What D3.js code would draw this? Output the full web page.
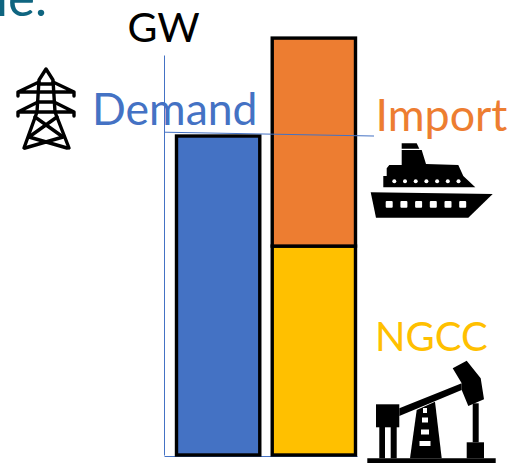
<!DOCTYPE html>
<html>
<head>
<meta charset="utf-8">
<script src="https://cdn.jsdelivr.net/npm/d3@7"></script>
<style>
  html, body { margin: 0; padding: 0; background: #fff; overflow: hidden; }
  svg { display: block; }
  text { font-family: Lato, "Open Sans", sans-serif; }
</style>
</head>
<body>
<svg id="chart" width="514" height="463"></svg>
<script>
// Capacity balance, GW normalised to demand = 100
const columns = ["Demand", "Supply"];
const demandValues = [100];
const ngccValues = [65.5];
const importValues = [65.2];
const demandLineLevels = [101.2, 100];
const axisMax = 125.4;

const colors = { Demand: "#4472C4", Import: "#ED7D31", NGCC: "#FFC000", axis: "#4472C4" };

const svg = d3.select("#chart");

const y = d3.scaleLinear().domain([0, axisMax]).range([455, 55]);
const x = d3.scaleBand().domain(columns).range([176.5, 355.5]).paddingInner(0.13);

// Clipped end of the slide heading above the chart
svg.append("text").attr("x", 47).attr("y", 15.5)
  .attr("text-anchor", "end").attr("font-size", 51).attr("fill", "#0F6580").text("le.");

// Axes, without ticks
const yAxis = d3.axisLeft(y).tickValues([]).tickSize(0).tickSizeOuter(0);
svg.append("g").attr("transform", "translate(164,0)").call(yAxis)
  .select(".domain").attr("stroke", colors.axis).attr("stroke-width", 1);
const xAxisScale = d3.scaleLinear().domain([0, 1]).range([164, 357]);
const xAxis = d3.axisBottom(xAxisScale).tickValues([]).tickSize(0).tickSizeOuter(0);
svg.append("g").attr("transform", `translate(0,${y(0) + 1})`).call(xAxis)
  .select(".domain").attr("stroke", colors.axis).attr("stroke-width", 1);

// Bars: demand alone, then NGCC with imports stacked on top
const rows = [
  { column: "Demand", base: demandValues[0], top: 0 },
  { column: "Supply", base: ngccValues[0], top: importValues[0] }
];
const stacked = d3.stack().keys(["base", "top"])(rows);
const fills = { Demand: [colors.Demand, "none"], Supply: [colors.NGCC, colors.Import] };

stacked.forEach((layer, li) => {
  svg.append("g").selectAll("rect")
    .data(layer.filter(d => d[1] > d[0]))
    .join("rect")
    .attr("x", d => x(d.data.column))
    .attr("width", x.bandwidth())
    .attr("y", d => y(d[1]))
    .attr("height", d => y(d[0]) - y(d[1]))
    .attr("fill", d => fills[d.data.column][li])
    .attr("stroke", "#000")
    .attr("stroke-width", 3.4);
});

// Demand reference line
svg.append("line")
  .attr("x1", 164).attr("x2", 374)
  .attr("y1", y(demandLineLevels[0])).attr("y2", y(demandLineLevels[1]))
  .attr("stroke", colors.axis).attr("stroke-width", 1);

// Labels
const labels = [
  { text: "GW", x: 127.5, y: 41.5, size: 41, fill: "#000" },
  { text: "Demand", x: 92, y: 125, size: 44.5, fill: colors.Demand },
  { text: "Import", x: 375.5, y: 130.5, size: 44.8, fill: colors.Import },
  { text: "NGCC", x: 375, y: 350.5, size: 40, fill: colors.NGCC }
];
svg.append("g").selectAll("text").data(labels).join("text")
  .attr("x", d => d.x).attr("y", d => d.y)
  .attr("font-size", d => d.size).attr("fill", d => d.fill).text(d => d.text);

// Transmission tower icon
const pylon = svg.append("g").attr("fill", "none").attr("stroke", "#000")
  .attr("stroke-width", 3.4).attr("stroke-linejoin", "round").attr("stroke-linecap", "round");
[
  "M24,148L37,112L39,80L46,69L53,80L55,112L69,148",
  "M18,96V92L39,82M74,96V92L53,82M18,92H74",
  "M18,116V112L38,102M74,116V112L54,102M18,112H74",
  "M39,84H53M38,102H54",
  "M35,117L63,137L25,148M57,117L29,137L67,148"
].forEach(d => pylon.append("path").attr("d", d));

// Cruise ship icon
const ship = svg.append("g");
ship.append("path").attr("fill", "#000")
  .attr("d", "M370.7,192.3L492.7,194L468.3,217.7L376,217.7Z");
ship.append("path").attr("fill", "#000")
  .attr("d", "M383.3,187.3L475.3,187.3L463.3,176L458.3,165L426,164L421.7,150L401.7,150L401.7,165L389.3,165L386.7,168.3L386.7,176L383.3,176Z");
ship.append("path").attr("fill", "#000")
  .attr("d", "M401.7,143.3L416.7,143.3L419.3,148.7L401.7,148.7Z");
ship.append("g").selectAll("rect").data(d3.range(6)).join("rect")
  .attr("x", i => 385.7 + i * 14.7).attr("y", 201).attr("width", 7).attr("height", 6.7)
  .attr("rx", 1).attr("fill", "#fff");
ship.append("g").selectAll("circle").data(d3.range(7)).join("circle")
  .attr("cx", i => 394.3 + i * 10.7).attr("cy", 181.3).attr("r", 2).attr("fill", "#fff");

// Pump jack icon
const jack = svg.append("g").attr("fill", "#000");
[
  "M367.3,458.3H495.7V463H367.3Z",
  "M376,404.3H399.3V427.3H376Z",
  "M379.3,427H385V458.3H379.3ZM390.7,427H396.7V458.3H390.7Z",
  "M399.3,408.3L461.7,383.3L461.7,390L399.3,416Z",
  "M452.7,368.3L466.7,360.7L480.7,378.3L484,399.3L468.3,406L461.7,390L461.7,383.3Z",
  "M416.7,410L435,401.7L441.7,458.3L410,458.3Z",
  "M472.7,403.3H478.7V442.3H472.7Z",
  "M466.7,442.3H484V458.3H466.7Z"
].forEach(d => jack.append("path").attr("d", d));
[[423, 408, 4, 5], [422, 417.5, 6, 5], [421, 429.5, 8, 5], [419.5, 441, 11, 5]].forEach(s => {
  jack.append("rect").attr("x", s[0]).attr("y", s[1]).attr("width", s[2]).attr("height", s[3]).attr("fill", "#fff");
});
</script>
</body>
</html>
